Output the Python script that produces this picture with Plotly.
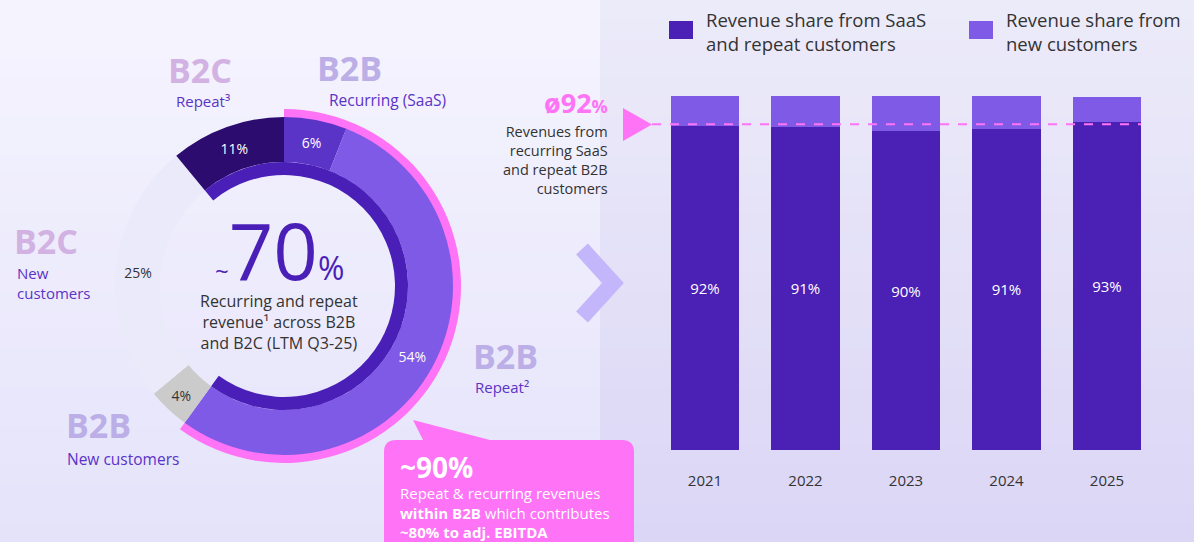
import plotly.graph_objects as go

W, H = 1194, 542

# ---------------- data ----------------
years = ["2021", "2022", "2023", "2024", "2025"]
repeat_share = [91.4, 91.3, 90.1, 90.7, 92.7]
new_share = [8.6, 8.7, 9.9, 9.3, 7.0]
repeat_labels = ["92%", "91%", "90%", "91%", "93%"]
avg_share = 92

donut_names = ["B2B Recurring (SaaS)", "B2B Repeat", "B2B New customers", "B2C New customers", "B2C Repeat"]
donut_values = [6, 54, 4, 25, 11]
donut_labels = ["6%", "54%", "4%", "25%", "11%"]
recurring_total = [71, 29]
b2b_recurring = [60, 40]

FONT = "Open Sans"
DARK = "#4b20b5"
LIGHT = "#7f5ae6"
PINK = "#ff73f6"
TXT = "#333333"


def px(x):
    return x / W


def py(y):
    return 1 - y / H


def dom(cx, cy, r):
    return dict(x=[px(cx - r), px(cx + r)], y=[py(cy + r), py(cy - r)])


fig = go.Figure()

CX, CY = 284, 286
# pink outer ring (B2B share)
fig.add_trace(go.Pie(
    values=b2b_recurring, sort=False, direction="clockwise", rotation=0,
    hole=165 / 177, domain=dom(CX, CY, 177),
    marker=dict(colors=[PINK, "rgba(0,0,0,0)"], line=dict(width=0)),
    textinfo="none", hoverinfo="skip", showlegend=False))

# main donut
fig.add_trace(go.Pie(
    labels=donut_names, values=donut_values, sort=False, direction="clockwise", rotation=0,
    hole=124 / 169, domain=dom(CX, CY, 169),
    marker=dict(colors=["#5a33c7", LIGHT, "#cbcbcb", "#ebeafa", "#2c0c6e"], line=dict(width=0)),
    text=donut_labels, textinfo="text", textposition="inside", insidetextorientation="horizontal",
    insidetextfont=dict(family=FONT, size=14, color=["white", "white", TXT, TXT, "white"]),
    hoverinfo="label+value", showlegend=False))

# inner indigo ring (recurring + repeat ~70%)
fig.add_trace(go.Pie(
    values=recurring_total, sort=False, direction="clockwise", rotation=-39.6,
    hole=111 / 124, domain=dom(CX, CY, 124),
    marker=dict(colors=["#4a1fb8", "rgba(0,0,0,0)"], line=dict(width=0)),
    textinfo="none", hoverinfo="skip", showlegend=False))

# bars
fig.add_trace(go.Bar(
    x=years, y=repeat_share, name="Revenue share from SaaS and repeat customers",
    marker=dict(color=DARK, line=dict(width=0)), width=0.68,
    text=repeat_labels, textposition="inside", insidetextanchor="middle",
    textfont=dict(family=FONT, size=15, color="white"), showlegend=False))
fig.add_trace(go.Bar(
    x=years, y=new_share, name="Revenue share from new customers",
    marker=dict(color=LIGHT, line=dict(width=0)), width=0.68,
    textposition="none", showlegend=False))

shapes = []
# background gradient stripes
n = 28


def lerp(c1, c2, t):
    a = [int(c1[i:i + 2], 16) for i in (1, 3, 5)]
    b = [int(c2[i:i + 2], 16) for i in (1, 3, 5)]
    return "#" + "".join(f"{round(a[k] + (b[k] - a[k]) * t):02x}" for k in range(3))


for i in range(n):
    y0 = i * H / n
    y1 = (i + 1) * H / n + 1
    t = i / (n - 1)
    shapes.append(dict(type="rect", xref="paper", yref="paper", x0=0, x1=px(600), y0=py(y1), y1=py(y0),
                       fillcolor=lerp("#f5f4fe", "#e5e3fa", t), line=dict(width=0), layer="below"))
    shapes.append(dict(type="rect", xref="paper", yref="paper", x0=px(600), x1=1, y0=py(y1), y1=py(y0),
                       fillcolor=lerp("#ecebf9", "#dbd6f6", t), line=dict(width=0), layer="below"))

# average dashed line
shapes.append(dict(type="line", xref="paper", yref="y", x0=px(652), x1=px(1141), y0=avg_share, y1=avg_share,
                   line=dict(color=PINK, width=2, dash="dash")))
# pink triangle
shapes.append(dict(type="path", xref="paper", yref="paper",
                   path=f"M {px(623)},{py(108)} L {px(652)},{py(124.5)} L {px(623)},{py(141)} Z",
                   fillcolor=PINK, line=dict(width=0)))
# chevron
shapes.append(dict(type="path", xref="paper", yref="paper",
                   path=f"M {px(582)},{py(249)} L {px(613)},{py(283)} L {px(582)},{py(317)}",
                   line=dict(color="#c4b6fb", width=16)))
# callout
pts = [(396, 440), (423, 440), (413, 420), (490, 440), (622, 440)]
p = f"M {px(pts[0][0])},{py(pts[0][1])} "
for (a, b) in pts[1:]:
    p += f"L {px(a)},{py(b)} "
p += (f"Q {px(634)},{py(440)} {px(634)},{py(452)} L {px(634)},{py(560)} L {px(384)},{py(560)} "
      f"L {px(384)},{py(452)} Q {px(384)},{py(440)} {px(396)},{py(440)} Z")
shapes.append(dict(type="path", xref="paper", yref="paper", path=p, fillcolor=PINK, line=dict(width=0)))
# legend squares
shapes.append(dict(type="rect", xref="paper", yref="paper", x0=px(669), x1=px(693), y0=py(39), y1=py(21),
                   fillcolor=DARK, line=dict(width=0)))
shapes.append(dict(type="rect", xref="paper", yref="paper", x0=px(969), x1=px(993), y0=py(39), y1=py(21),
                   fillcolor=LIGHT, line=dict(width=0)))

ann = []


def A(x, y, text, size=14, color=TXT, xanchor="center", align="center", bold=False, yanchor="middle", height=None):
    if bold:
        text = f"<b>{text}</b>"
    d = dict(x=px(x), y=py(y), xref="paper", yref="paper", text=text, showarrow=False,
             xanchor=xanchor, yanchor=yanchor, align=align,
             font=dict(family=FONT, size=size, color=color))
    if height:
        d["height"] = height
    ann.append(d)


PURP = "#5a33c7"
B2C_C = "#d2b2e2"
B2B_C = "#bcaee6"
# segment titles
A(200, 70, "B2C", 34, B2C_C, bold=True)
A(203, 101, "Repeat³", 15, PURP)
A(350, 68, "B2B", 34, B2B_C, bold=True)
A(387, 100, "Recurring (SaaS)", 15.5, PURP)
A(12, 241, "B2C", 34, B2C_C, xanchor="left", bold=True)
A(15, 283, "New<br>customers", 15, PURP, xanchor="left", align="left")
A(471, 356, "B2B", 34, B2B_C, xanchor="left", bold=True)
A(473, 387, "Repeat²", 15, PURP, xanchor="left", align="left")
A(64, 425, "B2B", 34, B2B_C, xanchor="left", bold=True)
A(65, 459, "New customers", 15.5, PURP, xanchor="left")

# centre text
A(279, 250, "<span style='font-size:24px'>~</span>70<span style='font-size:32px'>%</span>", 78, "#4a1fb8",
  height=72)
A(279, 322, "Recurring and repeat<br>revenue¹ across B2B<br>and B2C (LTM Q3-25)", 16, TXT)

# callout text
A(398, 467, "~90%", 28, "white", xanchor="left", bold=True)
A(398, 512, "Repeat &amp; recurring revenues<br><b>within B2B</b> which contributes<br><b>~80% to adj. EBITDA</b>",
  15, "white", xanchor="left", align="left")

# average annotation
A(610, 103, "<b>ø92</b><span style='font-size:18px'><b>%</b></span>", 27, PINK, xanchor="right")
A(610, 160, "Revenues from<br>recurring SaaS<br>and repeat B2B<br>customers", 14.5, TXT, xanchor="right", align="right")

# legend text
A(704, 31, "Revenue share from SaaS<br>and repeat customers", 18.5, TXT, xanchor="left", align="left")
A(1004, 31, "Revenue share from<br>new customers", 18.5, TXT, xanchor="left", align="left")

fig.update_layout(
    width=W, height=H, autosize=False,
    margin=dict(l=0, r=0, t=0, b=0),
    paper_bgcolor="#f0eefc", plot_bgcolor="rgba(0,0,0,0)",
    barmode="stack", bargap=0.32,
    font=dict(family=FONT, color=TXT),
    xaxis=dict(domain=[px(654.75), px(1157.25)], range=[-0.5, 4.5], type="category",
               showgrid=False, zeroline=False, showline=False, ticks="",
               tickfont=dict(family=FONT, size=15, color=TXT), ticklabelstandoff=20),
    yaxis=dict(domain=[py(450), py(96)], range=[0, 100], visible=False, showgrid=False),
    shapes=shapes, annotations=ann, showlegend=False,
)

fig.write_html("out.html", config={"displayModeBar": False},
               post_script="document.body.style.margin='0px';document.body.style.overflow='hidden';")
